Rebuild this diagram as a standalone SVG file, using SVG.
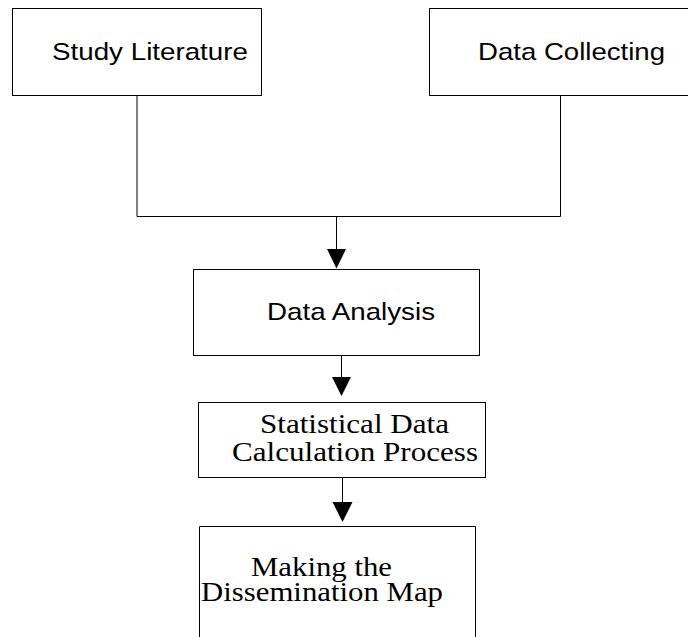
<svg xmlns="http://www.w3.org/2000/svg" width="688" height="637" viewBox="0 0 688 637">
<style>
  .box { fill: #ffffff; stroke: #000000; stroke-width: 1; }
  .wire { fill: none; stroke: #000000; stroke-width: 1; }
  .head { fill: #000000; stroke: none; }
  .sans { font-family: "Liberation Sans", Arial, sans-serif; font-size: 24px; fill: #000000; }
  .serif { font-family: "Liberation Serif", "Times New Roman", serif; font-size: 26.5px; fill: #000000; }
</style>
<rect width="688" height="637" fill="#ffffff"/>
<g id="connectors">
  <path class="wire" d="M137 95.5 V216.5 H560.5 V95.5"/>
  <path class="wire" d="M336.5 216.5 V250"/>
  <polygon class="head" points="327,249 346,249 336.5,268.5"/>
  <path class="wire" d="M341.5 355.5 V378"/>
  <polygon class="head" points="332,377 351,377 341.5,396"/>
  <path class="wire" d="M342.5 478 V503"/>
  <polygon class="head" points="332.5,502 352.5,502 342.5,522"/>
</g>
<g id="study-literature">
  <rect class="box" x="12.5" y="8.5" width="249" height="87"/>
  <text class="sans" transform="translate(52,59.5) scale(1.15,1)" x="0" y="0" textLength="170.4" lengthAdjust="spacingAndGlyphs">Study Literature</text>
</g>
<g id="data-collecting">
  <rect class="box" x="429.5" y="8.5" width="262" height="87"/>
  <text class="sans" transform="translate(478,59.5) scale(1.15,1)" x="0" y="0" textLength="162.6" lengthAdjust="spacingAndGlyphs">Data Collecting</text>
</g>
<g id="data-analysis">
  <rect class="box" x="193.5" y="269.5" width="286" height="86"/>
  <text class="sans" transform="translate(267,320) scale(1.15,1)" x="0" y="0" textLength="146.1" lengthAdjust="spacingAndGlyphs">Data Analysis</text>
</g>
<g id="statistical-data">
  <rect class="box" x="198.5" y="402.5" width="287" height="75"/>
  <text class="serif" transform="translate(260,433) scale(1.17,1)" x="0" y="0" textLength="161.5" lengthAdjust="spacingAndGlyphs">Statistical Data</text>
  <text class="serif" transform="translate(232,460.5) scale(1.17,1)" x="0" y="0" textLength="210.3" lengthAdjust="spacingAndGlyphs">Calculation Process</text>
</g>
<g id="dissemination-map">
  <path class="box" d="M199.5 640 V526.5 H475.5 V640"/>
  <text class="serif" transform="translate(251,575.5) scale(1.17,1)" x="0" y="0" textLength="120.5" lengthAdjust="spacingAndGlyphs">Making the</text>
  <text class="serif" transform="translate(201,601) scale(1.17,1)" x="0" y="0" textLength="206.8" lengthAdjust="spacingAndGlyphs">Dissemination Map</text>
</g>
</svg>
